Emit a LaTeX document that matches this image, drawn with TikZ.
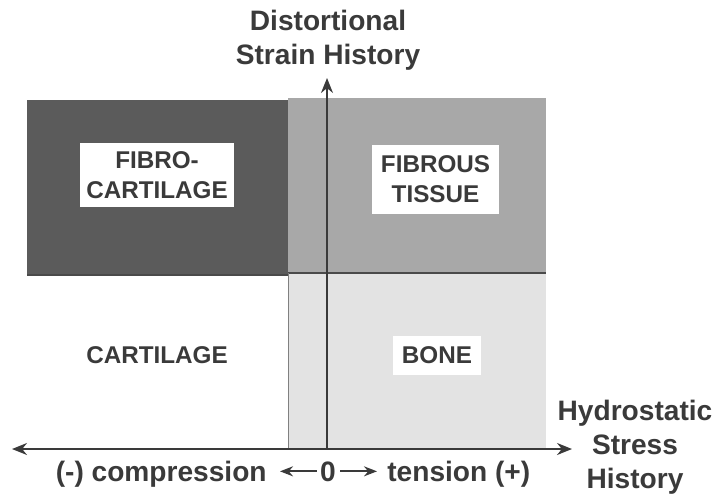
\documentclass[tikz,border=0pt]{standalone}
\usepackage{fontspec}
\setmainfont{Liberation Sans}
\usetikzlibrary{arrows.meta,positioning}
\definecolor{Ink}{HTML}{3A3A3A}
\definecolor{Dark}{HTML}{5B5B5B}
\definecolor{Mid}{HTML}{A8A8A8}
\definecolor{Light}{HTML}{E3E3E3}
\definecolor{Edge}{HTML}{4A4A4A}
\tikzset{tag/.style={fill=white,inner sep=0pt,align=center,font=\fontsize{13.8}{17}\selectfont\bfseries,text=Ink},axis/.style={line width=1.1pt,draw=Ink},title/.style={align=center,font=\fontsize{16}{19.3}\selectfont\bfseries,text=Ink},sign/.style={-{Stealth[length=2.6mm,width=2mm]},line width=1pt,draw=Ink}}
\begin{document}
\begin{tikzpicture}[x=0.02cm,y=-0.02cm]
\useasboundingbox (0,0) rectangle (715,497);
\fill[Dark] (27,100) rectangle (288,275);
\fill[Mid] (288,98) rectangle (546,273);
\fill[Light] (288,273) rectangle (546,449);
\draw[Edge,line width=.8pt] (27,275)--(288,275) (288,273)--(546,273);
\draw[Edge!70,line width=.5pt] (288,273)--(288,449);
\coordinate (O) at (327,449);
\coordinate (left) at (12,449);
\coordinate (right) at (572,449);
\coordinate (top) at (327,78);
\draw[axis,-{Stealth[length=3mm,width=2.4mm]}] (O)--(top);
\draw[axis,{Stealth[length=3mm,width=2.4mm]}-{Stealth[length=3mm,width=2.4mm]}] (left)--(right);
\node[tag,minimum width=3.08cm,minimum height=1.28cm] (fibcart) at (157,175) {FIBRO-\\CARTILAGE};
\node[tag,minimum width=2.54cm,minimum height=1.38cm] (fibtis) at (435.5,179.5) {FIBROUS\\TISSUE};
\node[tag,minimum width=1.76cm,minimum height=.78cm] (bone) at (437,355.5) {BONE};
\node[tag,fill=none] (cart) at (157,355) {CARTILAGE};
\node[title] (dist) at (328,40) {Distortional\\Strain History};
\node[title] (hydro) at (635,447) {Hydrostatic\\Stress\\History};
\node[title,inner sep=0pt,anchor=base] (zero) at (328,481) {0};
\node[title,inner sep=0pt,anchor=base east] (comp) at (267,481) {(-) compression};
\node[title,inner sep=0pt,anchor=base west] (tens) at (387,481) {tension (+)};
\draw[sign,shorten <=1.7pt,shorten >=7.4pt] (zero.west)--(zero.west -| comp.east);
\draw[sign,shorten <=2.3pt,shorten >=5.7pt] (zero.east)--(zero.east -| tens.west);
\end{tikzpicture}
\end{document}
